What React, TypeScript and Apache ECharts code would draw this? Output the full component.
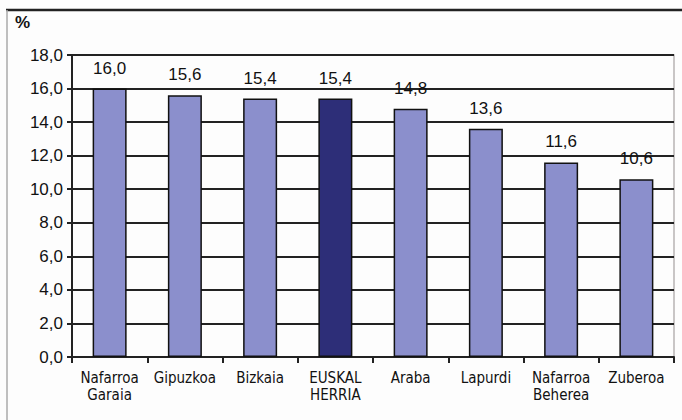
import React, { useEffect, useRef } from "react";
import * as echarts from "echarts";

const categories = [
  "Nafarroa\nGaraia",
  "Gipuzkoa",
  "Bizkaia",
  "EUSKAL\nHERRIA",
  "Araba",
  "Lapurdi",
  "Nafarroa\nBeherea",
  "Zuberoa",
];
const values = [16.0, 15.6, 15.4, 15.4, 14.8, 13.6, 11.6, 10.6];
const highlightIndex = 3;
const yTicks = { min: 0, max: 18, interval: 2 };
const unitLabel = "%";

export default function App() {
  const ref = useRef<HTMLDivElement>(null);
  useEffect(() => {
    if (!ref.current) return;
    const chart = echarts.init(ref.current, null, { renderer: "svg" });
    const fmt = (v: number) => v.toFixed(1).replace(".", ",");
    chart.setOption({
      animation: false,
      backgroundColor: "#fdfdfd",
      grid: { left: 72, right: 8, top: 55, bottom: 63, show: true, borderColor: "#b8b4b4", borderWidth: 1.5, backgroundColor: "transparent" },
      graphic: [
        { type: "line", shape: { x1: 6, y1: 10, x2: 682, y2: 10 }, style: { stroke: "#222", lineWidth: 2.5 } },
        { type: "line", shape: { x1: 7, y1: 10, x2: 7, y2: 420 }, style: { stroke: "#aaa", lineWidth: 1.5 } },
        { type: "text", x: 15, y: 14, style: { text: unitLabel, font: "bold 17px 'Liberation Sans', Arial, sans-serif", fill: "#111" } },
      ],
      xAxis: {
        type: "category",
        data: categories,
        boundaryGap: true,
        axisLine: { lineStyle: { color: "#222", width: 2 } },
        axisTick: { show: true, alignWithLabel: false, length: 6, lineStyle: { color: "#222", width: 2 } },
        axisLabel: {
          interval: 0,
          margin: 12,
          color: "#111",
          fontSize: 15,
          lineHeight: 17,
          fontFamily: "'DejaVu Sans Condensed', 'Liberation Sans Narrow', sans-serif",
        },
        splitLine: { show: false },
      },
      yAxis: {
        type: "value",
        min: yTicks.min,
        max: yTicks.max,
        interval: yTicks.interval,
        axisLine: { show: true, lineStyle: { color: "#222", width: 2 } },
        axisTick: { show: true, length: 5, lineStyle: { color: "#222", width: 2 } },
        axisLabel: {
          margin: 9,
          color: "#111",
          fontSize: 17,
          fontFamily: "'Liberation Sans', Arial, sans-serif",
          formatter: (v: number) => fmt(v),
        },
        splitLine: {
          show: true,
          lineStyle: { color: "#222", width: 2 },
        },
      },
      series: [
        {
          type: "bar",
          barWidth: 34,
          data: values.map((v, i) => ({
            value: v,
            itemStyle: {
              color: i === highlightIndex ? "#2d2e78" : "#8b8fcc",
              borderColor: "#111",
              borderWidth: 1.5,
            },
          })),
          label: {
            show: true,
            position: "top",
            distance: 12,
            color: "#111",
            fontSize: 17,
            fontFamily: "'Liberation Sans', Arial, sans-serif",
            formatter: (p: any) => fmt(p.value),
          },
        },
      ],
    });
    return () => chart.dispose();
  }, []);
  return <div ref={ref} style={{ width: 682, height: 420, position: "absolute", left: 0, top: 0 }} />;
}
